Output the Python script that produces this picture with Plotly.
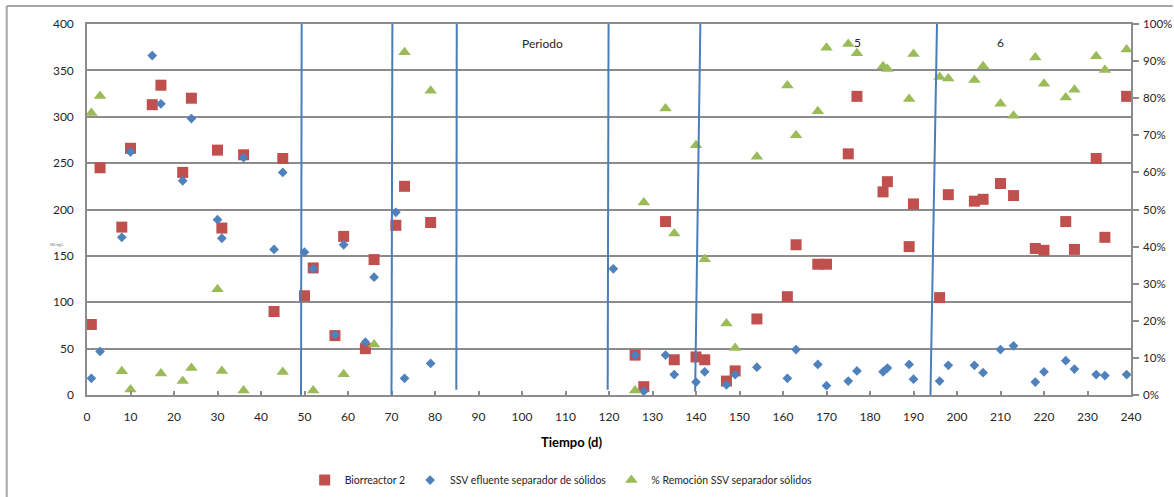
import plotly.graph_objects as go

# ---- data ----
bio_x = [1, 3, 8, 10, 15, 17, 22, 24, 30, 31, 36, 43, 45, 50, 52, 57, 59, 64, 66, 71,
         73, 79, 126, 128, 133, 135, 140, 142, 147, 149, 154, 161, 163, 168, 170, 175,
         177, 183, 184, 189, 190, 196, 198, 204, 206, 210, 213, 218, 220, 225, 227, 232, 234, 239]
bio_y = [76, 245, 181, 266, 313, 334, 240, 320, 264, 180, 259, 90, 255, 107, 137, 64, 171, 50, 146, 183,
         225, 186, 43, 9, 187, 38, 41, 38, 15, 26, 82, 106, 162, 141, 141, 260,
         322, 219, 230, 160, 206, 105, 216, 209, 211, 228, 215, 158, 156, 187, 157, 255, 170, 322]

ssv_x = [1, 3, 8, 10, 15, 17, 22, 24, 30, 31, 36, 43, 45, 50, 52, 57, 59, 64, 66, 71,
         73, 79, 121, 126, 128, 133, 135, 140, 142, 147, 149, 154, 161, 163, 168, 170,
         175, 177, 183, 184, 189, 190, 196, 198, 204, 206, 210, 213, 218, 220, 225, 227, 232, 234, 239]
ssv_y = [18, 47, 170, 262, 366, 314, 231, 298, 189, 169, 256, 157, 240, 154, 136, 65, 162, 57, 127, 197,
         18, 34, 136, 43, 4, 43, 22, 14, 25, 11, 22, 30, 18, 49, 33, 10,
         15, 26, 25, 29, 33, 17, 15, 32, 32, 24, 49, 53, 14, 25, 37, 28, 22, 21, 22]

rem_x = [1, 3, 8, 10, 17, 22, 24, 30, 31, 36, 45, 52, 59, 66, 73, 79, 126, 128, 133, 135,
         140, 142, 147, 149, 154, 161, 163, 168, 170, 175, 177, 183, 184, 189, 190, 196,
         198, 204, 206, 210, 213, 218, 220, 225, 227, 232, 234, 239]
rem_y = [76, 80.6, 6.4, 1.5, 5.8, 3.8, 7.3, 28.5, 6.5, 1.2, 6.2, 1.2, 5.6, 13.6, 92.4, 82, 1.2, 51.9, 77.2, 43.5,
         67.3, 36.6, 19.3, 12.7, 64.2, 83.4, 70, 76.5, 93.6, 94.6, 92.1, 88.6, 87.9, 79.8, 91.9, 85.7,
         85.3, 84.9, 88.6, 78.5, 75.3, 91, 83.9, 80.2, 82.3, 91.3, 87.6, 93.1]

# period divider lines (hand drawn, slightly slanted): (x_bottom, y_bottom, x_top, y_top)
period_lines = [(49.2, 0, 49.35, 400), (70.0, 0, 70.2, 400), (84.9, 5.7, 85.0, 400),
                (119.7, 5.7, 119.9, 400), (139.8, 3.9, 141.0, 400), (193.9, 0, 195.4, 400)]
period_labels = [("Periodo", 104.6, 379), ("5", 177.1, 380), ("6", 209.9, 380)]

x_ticks = list(range(0, 241, 10))

FONT = "Lato, 'Open Sans', sans-serif"
GRID = "#8c8c8c"
TXT = "#262626"

fig = go.Figure()
fig.add_trace(go.Scatter(x=bio_x, y=bio_y, mode="markers", name="Biorreactor 2",
                         marker=dict(symbol="square", size=11, color="#C0504D", line=dict(width=0))))
fig.add_trace(go.Scatter(x=ssv_x, y=ssv_y, mode="markers", name="SSV efluente separador de sólidos",
                         marker=dict(symbol="diamond", size=7.5, color="#4F81BD", line=dict(width=0))))
fig.add_trace(go.Scatter(x=rem_x, y=rem_y, mode="markers", name="% Remoción SSV separador sólidos",
                         yaxis="y2",
                         marker=dict(symbol="triangle-up", size=11, color="#9BBB59", line=dict(width=0))))

shapes = []
for xb, yb, xt, yt in period_lines:
    shapes.append(dict(type="line", xref="x", yref="y", x0=xb, y0=yb, x1=xt, y1=yt,
                       line=dict(color="#4A7EBB", width=2), layer="above"))
# outer chart border (left and top)
shapes.append(dict(type="line", xref="paper", yref="paper", x0=-0.0769, y0=-0.28, x1=-0.0769, y1=1.0485,
                   line=dict(color="#a6a6a6", width=2)))
shapes.append(dict(type="line", xref="paper", yref="paper", x0=-0.0769, y0=1.0485, x1=1.04, y1=1.0485,
                   line=dict(color="#a6a6a6", width=2)))

annotations = []
for txt, xv, yv in period_labels:
    annotations.append(dict(text=txt, x=xv, y=yv, xref="x", yref="y", showarrow=False,
                            font=dict(family=FONT, size=12, color=TXT)))
annotations.append(dict(text="<b>Tiempo (d)</b>", x=0.464, y=-0.127, xref="paper", yref="paper",
                        showarrow=False, xanchor="center", yanchor="middle",
                        font=dict(family=FONT, size=13, color="#000000")))
annotations.append(dict(text="SSV, mg/L", x=-0.0376, y=0.405, xref="paper", yref="paper",
                        showarrow=False, font=dict(family=FONT, size=3, color="#555555")))

fig.update_layout(
    width=1174, height=497,
    margin=dict(l=87, r=43, t=24, b=102, autoexpand=False),
    paper_bgcolor="white", plot_bgcolor="white",
    font=dict(family=FONT, size=12, color=TXT),
    showlegend=True,
    legend=dict(orientation="h", xref="container", yref="container", x=0.478, y=0.034,
                xanchor="center", yanchor="middle",
                font=dict(family=FONT, size=10.5, color=TXT), itemwidth=30, bgcolor="rgba(0,0,0,0)"),
    xaxis=dict(range=[0, 240], tickvals=x_ticks, ticks="inside", ticklen=4, tickcolor=GRID,
               tickwidth=1.5, showline=True, linecolor=GRID, linewidth=1.5, mirror=True,
               showgrid=False, zeroline=False, ticklabelstandoff=10, automargin=False,
               tickfont=dict(family=FONT, size=12, color=TXT)),
    yaxis=dict(range=[0, 400], dtick=50, showgrid=True, gridcolor=GRID, gridwidth=1.5,
               showline=True, linecolor=GRID, linewidth=1.5, zeroline=False, ticks="",
               ticklabelstandoff=9, automargin=False, tickfont=dict(family=FONT, size=12, color=TXT)),
    yaxis2=dict(range=[0, 100], dtick=10, ticksuffix="%", overlaying="y", side="right",
                showgrid=False, zeroline=False, showline=True, linecolor=GRID, linewidth=1.5,
                ticks="outside", ticklen=6, tickcolor=GRID, tickwidth=1.5, ticklabelstandoff=2,
                automargin=False, tickfont=dict(family=FONT, size=11.5, color=TXT)),
    shapes=shapes,
    annotations=annotations,
)

fig.write_html("out.html")
